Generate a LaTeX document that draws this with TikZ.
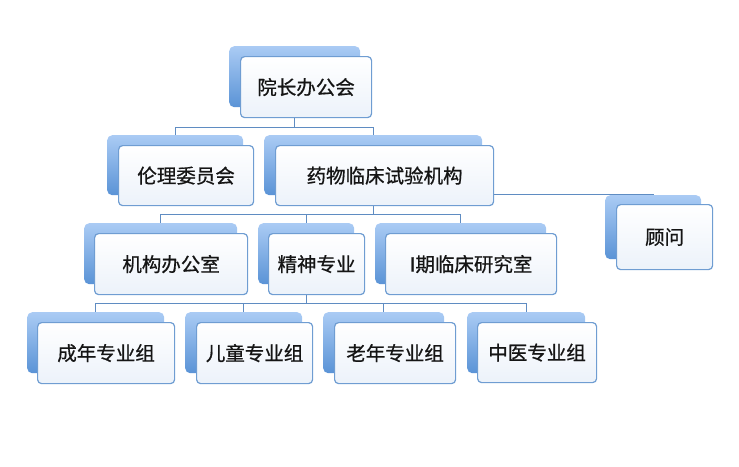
\documentclass[tikz,border=0pt]{standalone}
\usepackage{fontspec}
\setmainfont{Noto Sans CJK SC}[FakeBold=0.7,AutoFakeBold=0.7]
\definecolor{backtop}{HTML}{AACBF4}
\definecolor{backbot}{HTML}{5A93D6}
\definecolor{frontline}{HTML}{6F9DD2}
\definecolor{frontbot}{HTML}{ECF2FA}
\definecolor{linkcol}{HTML}{5F8CC2}
\definecolor{txt}{HTML}{151515}
\pgfdeclarelayer{bg}
\pgfsetlayers{bg,main}
\begin{document}
\begin{tikzpicture}[x=1pt,y=-1pt,
  backbox/.style={rectangle,rounded corners=5pt,top color=backtop,bottom color=backbot,
    inner sep=0pt,anchor=north west},
  frontbox/.style={rectangle,rounded corners=4pt,draw=frontline,line width=1.2pt,
    top color=white,bottom color=frontbot,inner sep=0pt,anchor=north west,
    font=\fontsize{19.5}{22}\selectfont\bfseries,text=txt},
  link/.style={draw=linkcol,line width=1.4pt}]
\useasboundingbox (0,0) rectangle (739,466);
% back shapes
\node[backbox,minimum width=131pt,minimum height=61pt] (yzb) at (229,46) {};
\node[backbox,minimum width=136pt,minimum height=60pt] (llb) at (107,135) {};
\node[backbox,minimum width=218pt,minimum height=60pt] (ywb) at (264,135) {};
\node[backbox,minimum width=96pt,minimum height=64pt] (gwb) at (605,195) {};
\node[backbox,minimum width=153pt,minimum height=61pt] (jgb) at (84,223) {};
\node[backbox,minimum width=96pt,minimum height=61pt] (jsb) at (258,223) {};
\node[backbox,minimum width=171pt,minimum height=61pt] (yqb) at (375,223) {};
\node[backbox,minimum width=137pt,minimum height=61pt] (cnb) at (27,312) {};
\node[backbox,minimum width=117pt,minimum height=61pt] (etb) at (185,312) {};
\node[backbox,minimum width=121pt,minimum height=61pt] (lnb) at (323,312) {};
\node[backbox,minimum width=118pt,minimum height=61pt] (zyb) at (467,312) {};
% connectors (under the boxes)
\begin{pgfonlayer}{bg}
\draw[link] (yzb.south) -- ++(0,20) coordinate (c1) -| (llb.north);
\draw[link] (c1) -| (ywb.north);
\draw[link] (ywb.south) -- ++(0,19) coordinate (c2) -| (jgb.north);
\draw[link] (c2) -| (jsb.north);
\draw[link] (c2) -| (yqb.north);
\draw[link] (ywb.south) -- ++(0,-1) coordinate (c3) -| (gwb.north);
\draw[link] (jsb.south) -- ++(0,19) coordinate (c4) -| (cnb.north);
\draw[link] (c4) -| (etb.north);
\draw[link] (c4) -| (lnb.north);
\draw[link] (c4) -| (zyb.north);
\end{pgfonlayer}
% front boxes
\node[frontbox,minimum width=131pt,minimum height=61pt] (yz) at (240,56) {院长办公会};
\node[frontbox,minimum width=135pt,minimum height=60pt] (ll) at (118,145) {伦理委员会};
\node[frontbox,minimum width=218pt,minimum height=60pt] (yw) at (275,145) {药物临床试验机构};
\node[frontbox,minimum width=96pt,minimum height=65pt] (gw) at (616,204) {顾问};
\node[frontbox,minimum width=153pt,minimum height=61pt] (jg) at (94,233) {机构办公室};
\node[frontbox,minimum width=96pt,minimum height=61pt] (js) at (268,233) {精神专业};
\node[frontbox,minimum width=171pt,minimum height=61pt] (yq) at (385,233) {I期临床研究室};
\node[frontbox,minimum width=137pt,minimum height=61pt] (cn) at (37,322) {成年专业组};
\node[frontbox,minimum width=116pt,minimum height=61pt] (et) at (196,322) {儿童专业组};
\node[frontbox,minimum width=121pt,minimum height=61pt] (ln) at (334,322) {老年专业组};
\node[frontbox,minimum width=119pt,minimum height=60pt] (zy) at (477,322) {中医专业组};
\end{tikzpicture}
\end{document}
